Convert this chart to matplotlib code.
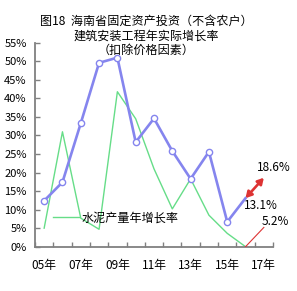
import matplotlib
matplotlib.use("Agg")
import matplotlib.pyplot as plt
import numpy as np

plt.rcParams['font.family'] = ['Noto Sans CJK SC', 'DejaVu Sans']

years = ['05年', '06年', '07年', '08年', '09年', '10年', '11年', '12年',
         '13年', '14年', '15年', '16年', '17年']
invest = [12.4, 17.4, 33.3, 49.6, 51.0, 28.2, 34.6, 25.8, 18.3, 25.6, 6.7, 13.1]
invest_17 = 18.6
cement = [5.0, 31.0, 7.7, 4.7, 41.8, 34.5, 21.0, 10.2, 18.3, 8.5, 3.6, 0.0]
cement_17 = 5.2
yticks = [0, 5, 10, 15, 20, 25, 30, 35, 40, 45, 50, 55]
title_lines = ['图18  海南省固定资产投资（不含农户）', '建筑安装工程年实际增长率', '（扣除价格因素）']
legend_label = '水泥产量年增长率'

blue = '#8585EE'
green = '#66DD88'
red = '#DD3333'
gray = '#808080'

fig = plt.figure(figsize=(2.97, 2.91), dpi=100)
ax = fig.add_axes([35/297, 1-246.7/291, 238/297, (246.7-42.8)/291])

x = np.arange(len(years))
n = len(invest)

ax.plot(x[:n], cement, color=green, lw=1.0, label=legend_label, zorder=2)
ax.plot(x[:n], invest, color=blue, lw=1.9, zorder=3,
        marker='o', markersize=4.5, markerfacecolor='white',
        markeredgecolor=blue, markeredgewidth=1.0, markevery=list(range(n-1)))

# 2017 projections
ax.plot([x[n-1], x[n]], [cement[-1], cement_17], color=red, lw=0.8, zorder=3)
ax.annotate('', xy=(x[n], invest_17), xytext=(x[n-1], invest[-1]),
            arrowprops=dict(arrowstyle='<|-|>,head_length=0.35,head_width=0.2',
                            color=red, lw=1.9, shrinkA=0, shrinkB=0), zorder=4)

ax.annotate(f'{invest[-1]}%', xy=(x[n-1], invest[-1]), xytext=(-1, -5),
            textcoords='offset points', ha='left', va='center', fontsize=8.5)
ax.annotate(f'{invest_17}%', xy=(x[n], invest_17), xytext=(7, 7.5),
            textcoords='offset points', ha='center', va='center', fontsize=8.5)
ax.annotate(f'{cement_17}%', xy=(x[n], cement_17), xytext=(8, 4),
            textcoords='offset points', ha='center', va='center', fontsize=8.5)

ax.set_xlim(-0.5, len(years) - 0.5)
ax.set_ylim(0, 55)
ax.set_yticks(yticks)
ax.set_yticklabels([f'{v}%' for v in yticks], fontsize=8)
ax.set_xticks(x[::2])
ax.set_xticklabels(years[::2], fontsize=8.5)
ax.set_xticks(np.arange(len(years) + 1) - 0.5, minor=True)
ax.tick_params(axis='x', which='major', length=0, pad=9)
ax.tick_params(axis='x', which='minor', length=3.5, direction='in', color=gray, width=1)
ax.tick_params(axis='y', length=3.5, direction='in', color=gray, width=1, pad=6)

for s in ['top', 'right']:
    ax.spines[s].set_visible(False)
for s in ['left', 'bottom']:
    ax.spines[s].set_color(gray)
    ax.spines[s].set_linewidth(1.3)

leg = ax.legend(loc='center left', bbox_to_anchor=(0.075, 0.141), frameon=False,
                fontsize=8.7, handlelength=2.2, handletextpad=0.2,
                borderpad=0, borderaxespad=0)

for i, (t, yy) in enumerate(zip(title_lines, [21, 36, 50.5])):
    fig.text(146/297, 1 - yy/291, t, ha='center', va='center', fontsize=8.7)

fig.savefig('out.png', dpi=100)
